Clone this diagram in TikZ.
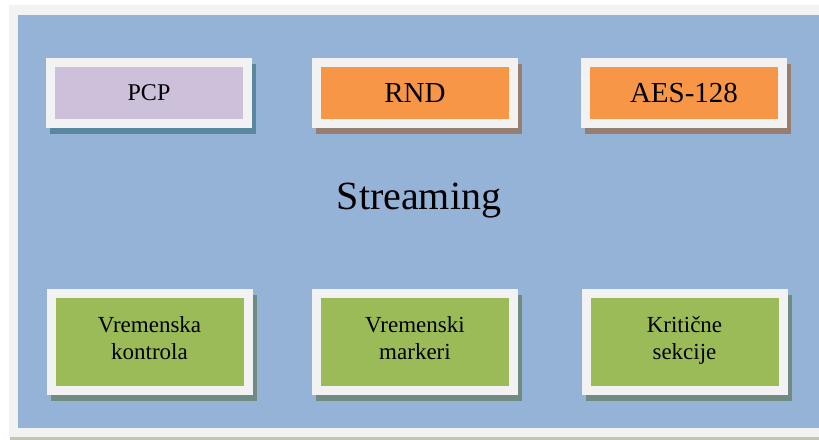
\documentclass[tikz,border=0pt]{standalone}
\usepackage{fontspec}
\setmainfont{Liberation Serif}
\pgfdeclarelayer{bg}
\pgfdeclarelayer{shadowlayer}
\pgfsetlayers{bg,shadowlayer,main}
\definecolor{frameGrey}{HTML}{F2F2F2}
\definecolor{bgBlue}{HTML}{95B3D7}
\definecolor{boxPurple}{HTML}{CCC0DA}
\definecolor{boxOrange}{HTML}{F79646}
\definecolor{boxGreen}{HTML}{9BBB59}
\definecolor{shPurple}{HTML}{5A87A0}
\definecolor{shOrange}{HTML}{977E72}
\definecolor{shGreen}{HTML}{718A82}
\definecolor{edgeLine}{HTML}{C2C6AE}
\tikzset{
  box/.style={draw=frameGrey, line width=9pt, minimum width=197pt, inner sep=0pt, align=center},
  topbox/.style={box, minimum height=61pt},
  botbox/.style={box, minimum height=97pt},
  botlabel/.style={inner sep=0pt, align=center, text height=43pt, text depth=0pt, font=\fontsize{23}{27}\selectfont},
  smallfont/.style={font=\fontsize{24}{28}\selectfont},
  bigfont/.style={font=\fontsize{29}{34}\selectfont},
  titlefont/.style={font=\fontsize{40}{48}\selectfont},
}
\newcommand{\boxshadow}[2]{%
  \begin{pgfonlayer}{shadowlayer}
    \fill[#2] ([xshift=4pt,yshift=-6pt]#1.south west) rectangle ([xshift=4pt,yshift=-6pt]#1.north east);
  \end{pgfonlayer}}
\begin{document}
\begin{tikzpicture}[x=1pt,y=-1pt]
\useasboundingbox (0,0) rectangle (819,439);
\begin{pgfonlayer}{bg}
  \fill[white] (0,0) rectangle (819,439);
  \fill[edgeLine] (10,436) rectangle (840,440);
  \fill[frameGrey] (9,5) rectangle (840,437);
  \fill[bgBlue] (18,15) rectangle (840,428);
\end{pgfonlayer}

\node[topbox, fill=boxPurple, smallfont] (pcp) at (149,93) {PCP};
\node[topbox, fill=boxOrange, bigfont] (rnd) at (415,93) {RND};
\node[topbox, fill=boxOrange, bigfont] (aes) at (684,93) {AES-128};

\node[titlefont, anchor=base] (title) at (419,209) {Streaming};

\node[botbox, fill=boxGreen] (vk) at (149.5,342) {};
\node[botbox, fill=boxGreen] (vm) at (415,342) {};
\node[botbox, fill=boxGreen] (ks) at (684.5,342) {};
\node[botlabel] (vkt) at (149.5,337.5) {Vremenska\\kontrola};
\node[botlabel] (vmt) at (415,337.5) {Vremenski\\markeri};
\node[botlabel] (kst) at (684.5,337.5) {Kritične\\sekcije};

\boxshadow{pcp}{shPurple}
\boxshadow{rnd}{shOrange}
\boxshadow{aes}{shOrange}
\boxshadow{vk}{shGreen}
\boxshadow{vm}{shGreen}
\boxshadow{ks}{shGreen}
\end{tikzpicture}
\end{document}
